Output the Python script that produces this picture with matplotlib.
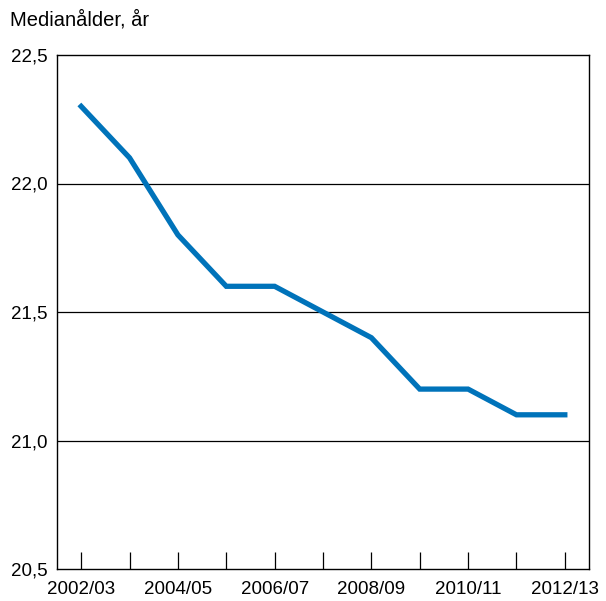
import matplotlib
matplotlib.use("Agg")
import matplotlib.pyplot as plt

years = ["2002/03", "2003/04", "2004/05", "2005/06", "2006/07", "2007/08",
         "2008/09", "2009/10", "2010/11", "2011/12", "2012/13"]
median_age = [22.3, 22.1, 21.8, 21.6, 21.6, 21.5, 21.4, 21.2, 21.2, 21.1, 21.1]
y_ticks = [20.5, 21.0, 21.5, 22.0, 22.5]

plt.rcParams["font.family"] = ["Liberation Sans", "DejaVu Sans"]

fig = plt.figure(figsize=(6.06, 6.01), dpi=100)
ax = fig.add_axes([57 / 606, 32 / 601, 532 / 606, 514 / 601])

x = list(range(len(years)))
for yv in y_ticks[1:-1]:
    ax.axhline(yv, color="black", lw=0.9, zorder=1)
ax.plot(x, median_age, color="#0073BA", lw=3.8, solid_joinstyle="miter", zorder=3)

ax.set_xlim(-0.5, 10.5)
ax.set_ylim(20.5, 22.5)
ax.set_yticks(y_ticks)
ax.set_yticklabels([f"{v:.1f}".replace(".", ",") for v in y_ticks], fontsize=13.5)
ax.set_xticks(x)
ax.set_xticklabels([lab if i % 2 == 0 else "" for i, lab in enumerate(years)], fontsize=13.5)
ax.tick_params(axis="x", direction="in", length=12, width=0.9, pad=9)
ax.tick_params(axis="y", length=0, pad=7)
for s in ax.spines.values():
    s.set_linewidth(1.0)

fig.text(10 / 606, 1 - 20 / 601, "Medianålder, år", fontsize=14.5, va="center", ha="left")

fig.savefig("out.png", dpi=100)
